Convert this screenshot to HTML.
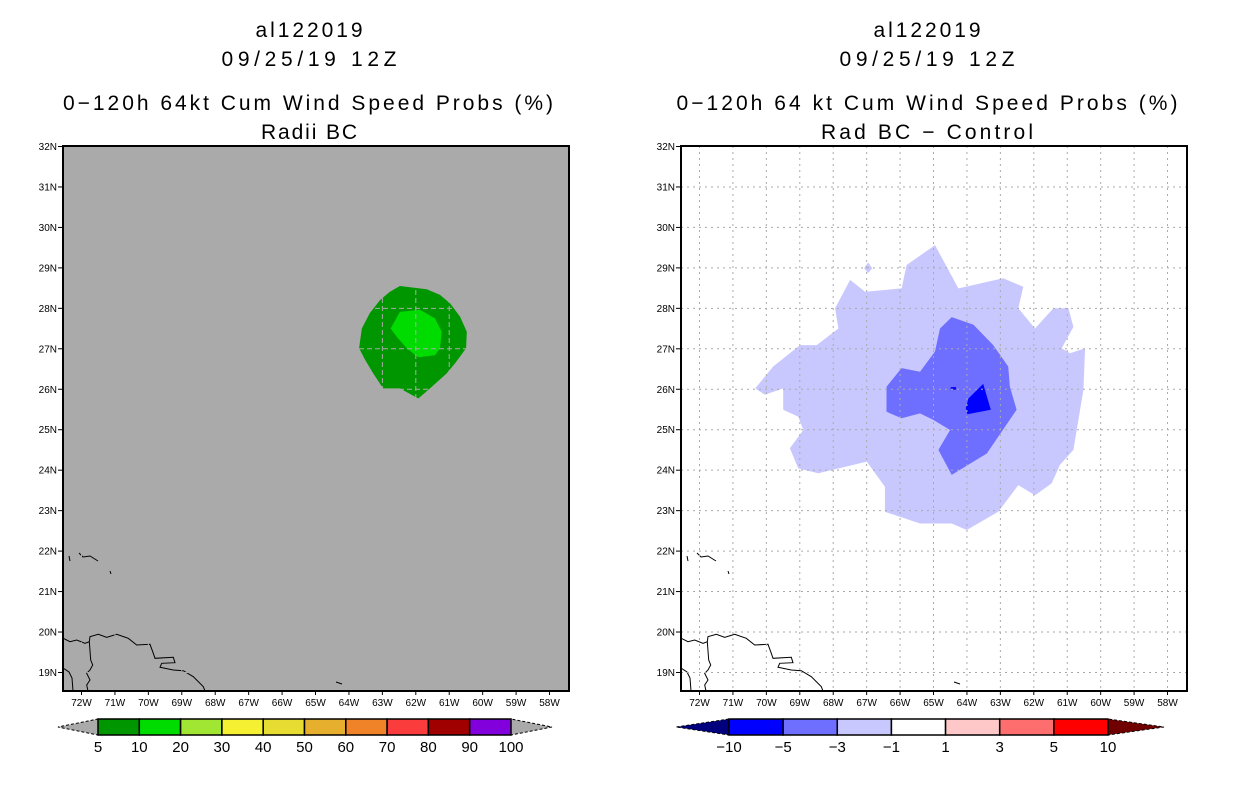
<!DOCTYPE html>
<html><head><meta charset="utf-8"><style>
html,body{margin:0;padding:0;background:#fff;}
svg text{font-family:"Liberation Sans",sans-serif;fill:#000;}
</style></head><body>
<svg id="root" width="1236" height="800" viewBox="0 0 1236 800" xmlns="http://www.w3.org/2000/svg">
<g>
<text x="309" y="37" font-size="21" text-anchor="middle" textLength="107" lengthAdjust="spacing">al122019</text>
<text x="309" y="66" font-size="21" text-anchor="middle" textLength="175" lengthAdjust="spacing">09/25/19 12Z</text>
<text x="308" y="110" font-size="21" text-anchor="middle" textLength="490" lengthAdjust="spacing">0−120h 64kt Cum Wind Speed Probs (%)</text>
<text x="309" y="139" font-size="21" text-anchor="middle" textLength="96" lengthAdjust="spacing">Radii BC</text>
</g>
<g>
<text x="927" y="37" font-size="21" text-anchor="middle" textLength="107" lengthAdjust="spacing">al122019</text>
<text x="927" y="66" font-size="21" text-anchor="middle" textLength="175" lengthAdjust="spacing">09/25/19 12Z</text>
<text x="927" y="110" font-size="21" text-anchor="middle" textLength="501" lengthAdjust="spacing">0−120h 64 kt Cum Wind Speed Probs (%)</text>
<text x="927" y="139" font-size="21" text-anchor="middle" textLength="212" lengthAdjust="spacing">Rad BC − Control</text>
</g>
<g id="left-panel"></g>
<g id="right-panel"></g>
<g id="left-cbar"></g>
<g id="right-cbar"></g>
</svg>
<script>
// ---- data (lon in degrees W, lat in degrees N) ----
const latTicks = [19,20,21,22,23,24,25,26,27,28,29,30,31,32];
const lonTicks = [72,71,70,69,68,67,66,65,64,63,62,61,60,59,58];
const probOuterLon = [62.46,61.66,61.26,60.96,60.66,60.46,60.48,60.81,61.06,61.56,61.91,62.46,62.96,63.26,63.50,63.68,63.60,63.36,63.06,62.76];
const probOuterLat = [28.54,28.46,28.32,28.11,27.78,27.41,27.00,26.63,26.38,26.01,25.76,26.01,26.01,26.38,26.71,27.00,27.49,27.87,28.19,28.40];
const probInnerLon = [62.46,61.86,61.41,61.21,61.26,61.41,61.91,62.26,62.56,62.74];
const probInnerLat = [27.90,27.95,27.74,27.41,27.00,26.83,26.78,27.00,27.29,27.49];
const diffLightLon = [64.94,64.24,62.90,62.30,62.45,61.95,61.40,60.95,60.80,61.15,60.90,60.45,60.50,60.80,61.20,61.45,61.95,62.45,63.05,63.99,64.44,65.39,66.44,66.44,66.98,68.43,69.03,69.28,68.88,69.03,69.48,69.48,70.03,70.32,69.78,68.98,68.48,67.83,67.93,67.48,67.03,65.94,65.79];
const diffLightLat = [29.55,28.48,28.73,28.52,27.99,27.49,27.99,27.99,27.53,27.00,26.88,27.00,25.97,24.49,24.12,23.66,23.37,23.62,22.96,22.51,22.67,22.67,22.96,23.58,24.20,23.91,24.03,24.53,24.98,25.31,25.48,26.01,25.85,26.01,26.55,27.08,27.08,27.49,27.99,28.69,28.40,28.48,29.06];
const diffIsleLon = [66.94,66.82,66.94,67.06];
const diffIsleLat = [29.12,28.98,28.86,28.98];
const diffMidLon = [64.44,63.79,63.20,62.75,62.70,62.50,63.39,64.44,64.84,64.49,64.99,65.39,65.94,66.39,66.39,65.94,65.39,64.94,64.79];
const diffMidLat = [27.77,27.58,27.08,26.55,26.05,25.48,24.40,23.87,24.49,24.98,25.23,25.39,25.27,25.43,26.05,26.51,26.42,26.92,27.49];
const diffDarkLon = [63.50,63.27,63.97,64.02,63.94];
const diffDarkLat = [26.12,25.48,25.37,25.52,25.76];
const diffSpeckLon = [64.47,64.31,64.31,64.47];
const diffSpeckLat = [26.04,26.04,25.98,25.98];
const probLevels = ['5','10','20','30','40','50','60','70','80','90','100'];
const probColors = ['#009600','#00dc00','#a0e632','#f5f032','#e6dc32','#e6af2d','#f08228','#fa3c3c','#a00000','#8200dc'];
const diffLevels = ['−10','−5','−3','−1','1','3','5','10'];
const diffColors = ['#0000ff','#6e6eff','#c8c8ff','#ffffff','#ffc8c8','#ff6e6e','#ff0000'];
// coastline (map background) in frame-relative pixels
const coastMain = [[0.3,492.3],[7,495.7],[13.7,494],[22,497.3],[26.3,495.7],[27,490.7],[35.3,488.3],[43.7,491.3],[53.7,488.3],[65.3,492.3],[73.7,499],[87,498.3],[90.3,507.3],[92,512.3],[110.3,511.3],[112,516.7],[98.7,517.3],[97,521.3],[110.3,524],[120.3,524.7],[130.3,530.7],[140.3,540.7],[142,545]];
const coastBorder = [[26.3,495.7],[27.7,514],[29.7,519],[27,524],[23.7,527.3],[27,534],[23.7,539],[25,545]];
const coastSW = [[0,522],[6,526],[9,532],[10,545]];
const coastIsles = [[[6,410],[7,415]],[[16,407],[20,411],[27,410],[35,415]],[[47,425],[48,428]],[[273,536],[279,538]]];

const NS='http://www.w3.org/2000/svg';
function mk(tag, attrs, parent){const e=document.createElementNS(NS,tag);for(const k in attrs)e.setAttribute(k,attrs[k]);parent.appendChild(e);return e;}

function panel(g, ox, bg, gridDash, shapes, prefix){
  const oy=146, W=506, H=545;
  const X = lon => ox+18+(72-lon)*33.43;
  const Y = lat => oy+(32-lat)*40.46;
  const cid = prefix+'-clip';
  const defs = mk('defs',{},g);
  const cp = mk('clipPath',{id:cid},defs);
  mk('rect',{x:ox,y:oy,width:W,height:H},cp);
  const bgr = mk('rect',{x:ox,y:oy,width:W,height:H,fill:bg},g);
  
  
  const inner = mk('g',{'clip-path':'url(#'+cid+')'},g);
  shapes.forEach(s=>{
    const pts = s.lon.map((lo,i)=>X(lo).toFixed(1)+','+Y(s.lat[i]).toFixed(1)).join(' ');
    const p = mk('polygon',{points:pts,fill:s.color},inner);
    
    
  });
  // coastline
  const cpath = arr => arr.map((p,i)=>(i?'L':'M')+(ox+p[0])+','+(oy+p[1])).join(' ');
  let d = cpath(coastMain)+' '+cpath(coastBorder)+' '+cpath(coastSW)+' '+coastIsles.map(cpath).join(' ');
  const coast = mk('path',{d:d,fill:'none',stroke:'#000','stroke-width':1},inner);
  
  
  // grid
  const grid = mk('g',{stroke:'#aaaaaa','stroke-width':1,'stroke-dasharray':gridDash},inner);
  
  
  latTicks.forEach(l=>{ mk('line',{x1:ox,x2:ox+W,y1:Y(l)+0.5,y2:Y(l)+0.5},grid); });
  lonTicks.forEach(l=>{ mk('line',{x1:X(l)+0.5,x2:X(l)+0.5,y1:oy,y2:oy+H},grid); });
  // frame
  const fr = mk('rect',{x:ox,y:oy,width:W,height:H,fill:'none',stroke:'#000','stroke-width':2},g);
  
  
  // ticks
  latTicks.forEach(l=>{
    mk('line',{x1:ox-5,x2:ox,y1:Y(l)+0.5,y2:Y(l)+0.5,stroke:'#000','stroke-width':1},g);
    const t = mk('text',{x:ox-6,y:Y(l)+4,'font-size':10,'text-anchor':'end'},g);
    t.textContent = l+'N';
    
    
  });
  lonTicks.forEach(l=>{
    mk('line',{x1:X(l)+0.5,x2:X(l)+0.5,y1:oy+H,y2:oy+H+4,stroke:'#000','stroke-width':1},g);
    const t = mk('text',{x:X(l)+0.5,y:oy+H+15,'font-size':10,'text-anchor':'middle'},g);
    t.textContent = l+'W';
    
    
  });
}

panel(document.getElementById('left-panel'), 63, '#aaaaaa', '5,3', [
  {lon:probOuterLon, lat:probOuterLat, color:'#009600', name:'prob-5-10-contour'},
  {lon:probInnerLon, lat:probInnerLat, color:'#00dc00', name:'prob-10-20-contour'}
], 'left');
panel(document.getElementById('right-panel'), 681, '#ffffff', '2,4', [
  {lon:diffLightLon, lat:diffLightLat, color:'#c8c8ff', name:'diff-minus1-minus3-contour'},
  {lon:diffIsleLon, lat:diffIsleLat, color:'#c8c8ff', name:'diff-minus1-islet'},
  {lon:diffMidLon, lat:diffMidLat, color:'#6e6eff', name:'diff-minus3-minus5-contour'},
  {lon:diffDarkLon, lat:diffDarkLat, color:'#0000ff', name:'diff-minus5-minus10-contour'},
  {lon:diffSpeckLon, lat:diffSpeckLat, color:'#0000ff', name:'diff-minus5-speck'}
], 'right');

function cbar(g, x0, x1, levels, colors, leftTri, rightTri, triL, triR, prefix){
  const y0=719, h=16, n=colors.length, w=(x1-x0)/n;
  const tl = mk('polygon',{points:`${x0},${y0} ${x0},${y0+h} ${x0-triL},${y0+h/2}`,fill:leftTri,stroke:'#000','stroke-width':1,'stroke-dasharray':'3,2'},g);
  
  
  const tr = mk('polygon',{points:`${x1},${y0} ${x1},${y0+h} ${x1+triR},${y0+h/2}`,fill:rightTri,stroke:'#000','stroke-width':1,'stroke-dasharray':'3,2'},g);
  
  
  colors.forEach((c,i)=>{
    const r = mk('rect',{x:x0+i*w,y:y0,width:w,height:h,fill:c,stroke:'#000','stroke-width':1.5},g);
    
    
  });
  levels.forEach((l,i)=>{
    const t = mk('text',{x:x0+i*w,y:y0+h+17,'font-size':15,'text-anchor':'middle'},g);
    t.textContent = l;
    
    
  });
}
cbar(document.getElementById('left-cbar'), 98, 511, probLevels, probColors, '#aaaaaa', '#aaaaaa', 40, 41, 'left');
cbar(document.getElementById('right-cbar'), 729, 1108, diffLevels, diffColors, '#00007f', '#700000', 53, 56, 'right');
</script>
</body></html>
